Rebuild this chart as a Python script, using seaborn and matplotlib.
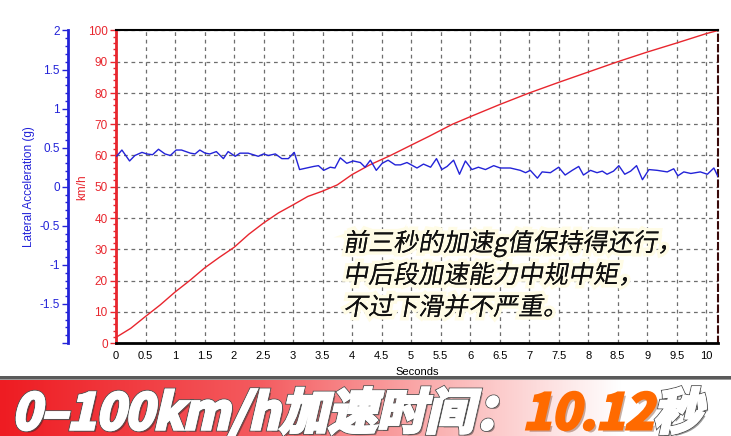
import numpy as np
import pandas as pd
import matplotlib
matplotlib.use("Agg")
import matplotlib.pyplot as plt
import seaborn as sns
import matplotlib.patheffects as pe
from matplotlib.textpath import TextPath, text_to_path
from matplotlib.patches import PathPatch, Rectangle
from matplotlib.font_manager import FontProperties
from matplotlib.transforms import Affine2D
from matplotlib.ticker import MultipleLocator, FuncFormatter
from matplotlib.colors import LinearSegmentedColormap

# speed trace (km/h)
t_speed = [0.0, 0.25, 0.5, 0.75, 1.0, 1.25, 1.5, 1.75, 2.0, 2.25, 2.5, 2.75, 3.0, 3.25,
           3.5, 3.75, 4.0, 4.3, 4.65, 5.0, 5.3, 5.7, 6.0, 6.5, 7.0, 7.5, 8.0, 8.5, 9.0,
           9.5, 10.0, 10.2]
speed = [1.8, 4.7, 8.5, 12.2, 16.3, 20.0, 24.0, 27.4, 30.6, 34.8, 38.4, 41.6, 44.2, 46.9,
         48.6, 50.6, 53.9, 57.0, 60.0, 63.3, 66.1, 70.0, 72.4, 76.3, 80.0, 83.4, 86.7, 90.0,
         93.1, 96.0, 99.0, 100.0]

# acceleration trace (g)
t_g = [0.01, 0.10, 0.23, 0.32, 0.44, 0.52, 0.62, 0.72, 0.83, 0.92, 1.02, 1.11, 1.26, 1.34,
       1.42, 1.51, 1.59, 1.70, 1.82, 1.90, 2.02, 2.10, 2.24, 2.41, 2.50, 2.58, 2.70, 2.81,
       2.92, 3.02, 3.11, 3.23, 3.35, 3.43, 3.52, 3.63, 3.71, 3.80, 3.91, 4.02, 4.14, 4.22,
       4.31, 4.41, 4.51, 4.61, 4.73, 4.82, 4.93, 5.10, 5.21, 5.33, 5.43, 5.52, 5.61, 5.72,
       5.82, 5.92, 6.03, 6.14, 6.26, 6.40, 6.51, 6.68, 6.85, 6.94, 7.02, 7.14, 7.22, 7.36,
       7.50, 7.61, 7.73, 7.84, 7.92, 8.04, 8.15, 8.24, 8.32, 8.43, 8.52, 8.62, 8.72, 8.82,
       8.92, 9.03, 9.17, 9.34, 9.45, 9.52, 9.62, 9.74, 9.90, 10.02, 10.13, 10.20]
g = [0.39, 0.47, 0.33, 0.40, 0.44, 0.42, 0.41, 0.48, 0.42, 0.40, 0.47, 0.47, 0.43, 0.42,
     0.47, 0.43, 0.42, 0.45, 0.36, 0.45, 0.39, 0.43, 0.43, 0.39, 0.42, 0.40, 0.42, 0.36,
     0.36, 0.44, 0.22, 0.24, 0.26, 0.27, 0.21, 0.25, 0.24, 0.37, 0.30, 0.33, 0.31, 0.25,
     0.34, 0.21, 0.30, 0.34, 0.28, 0.28, 0.31, 0.24, 0.29, 0.25, 0.36, 0.22, 0.26, 0.34,
     0.16, 0.33, 0.22, 0.25, 0.22, 0.27, 0.24, 0.24, 0.21, 0.18, 0.21, 0.11, 0.19, 0.18,
     0.25, 0.15, 0.21, 0.26, 0.15, 0.21, 0.18, 0.20, 0.16, 0.20, 0.27, 0.16, 0.20, 0.27,
     0.09, 0.22, 0.21, 0.19, 0.23, 0.14, 0.19, 0.17, 0.19, 0.16, 0.24, 0.13]

note_lines = ["前三秒的加速g值保持得还行，", "中后段加速能力中规中矩，", "不过下滑并不严重。"]
banner_parts = [("0–100km/h加速时间：", "white"), ("10.12", "#ff6a00"), ("秒", "white")]

RED = "#e8262e"
BLUE = "#2323d8"
W, H = 731, 436

sns.set_theme(style="white")
plt.rcParams['font.family'] = ['Liberation Sans', 'DejaVu Sans']

fig = plt.figure(figsize=(W / 100, H / 100), dpi=100)
ax = fig.add_axes([116 / W, 1 - 343 / H, 602 / W, 312.5 / H])
ax2 = ax.twinx()

sns.lineplot(x=t_speed, y=speed, ax=ax, color=RED, lw=1.0, estimator=None, sort=False)
sns.lineplot(x=t_g, y=g, ax=ax2, color=BLUE, lw=1.0, estimator=None, sort=False)

ax.set_xlim(0, 10.2)
ax.set_ylim(0, 100)
ax2.set_ylim(-2, 2)

ax.grid(True, which='major', color='#6e6e6e', linestyle=(0, (3, 3)), lw=0.9)
ax.xaxis.set_major_locator(MultipleLocator(0.5))
ax.xaxis.set_minor_locator(MultipleLocator(0.1))
ax.xaxis.set_major_formatter(FuncFormatter(lambda v, p: "%g" % v))
ax.yaxis.set_major_locator(MultipleLocator(10))
ax.yaxis.set_minor_locator(MultipleLocator(2))

ax2.yaxis.set_major_locator(MultipleLocator(0.5))
ax2.yaxis.set_minor_locator(MultipleLocator(0.1))
ax2.yaxis.set_major_formatter(FuncFormatter(lambda v, p: "" if v <= -2 else "%g" % v))

ax.tick_params(axis='x', which='both', direction='in', colors='black', labelsize=8, pad=6)
ax.tick_params(axis='x', which='major', length=4, width=0.8)
ax.tick_params(axis='x', which='minor', length=2, width=0.8)
ax.tick_params(axis='y', which='both', direction='out', colors=RED, labelsize=8.5, pad=2)
ax.tick_params(axis='y', which='major', length=4, width=1)
ax.tick_params(axis='y', which='minor', length=2, width=1)

ax2.yaxis.tick_left()
ax2.yaxis.set_label_position('left')
ax2.spines['left'].set_position(('outward', 34.5))
ax2.tick_params(axis='y', which='both', direction='out', colors=BLUE, labelsize=8.5, pad=2)
ax2.tick_params(axis='y', which='major', length=4, width=1)
ax2.tick_params(axis='y', which='minor', length=2, width=1)
for s in ['right', 'top', 'bottom']:
    ax2.spines[s].set_visible(False)
ax2.spines['left'].set_color(BLUE)
ax2.spines['left'].set_linewidth(2)

ax.spines['left'].set_color(RED)
ax.spines['left'].set_linewidth(2)
ax.spines['bottom'].set_color('black')
ax.spines['bottom'].set_linewidth(2)
ax.spines['top'].set_color('black')
ax.spines['top'].set_linewidth(1.5)
ax.spines['right'].set_color('#3a0a0a')
ax.spines['right'].set_linewidth(1.5)
ax.spines['right'].set_linestyle((0, (3, 2)))

ax.set_xlabel("Seconds", fontsize=8, color='black', labelpad=4)
ax.set_ylabel("km/h", fontsize=8.5, color=RED)
ax.yaxis.set_label_coords(-0.046, 0.5)
ax2.set_ylabel("Lateral Acceleration (g)", fontsize=8.5, color=BLUE)
ax2.yaxis.set_label_coords(-0.135, 0.5)

# banner background
bax = fig.add_axes([0, 0, 1, 58 / H])
cmap = LinearSegmentedColormap.from_list("ban", [(0, "#ee1c22"), (0.35, "#f45a5e"),
                                                 (0.62, "#fbb8b8"), (0.85, "#ffffff"),
                                                 (1, "#ffffff")])
bax.imshow(np.linspace(0, 1, 256)[None, :], cmap=cmap, aspect='auto', extent=[0, W, 0, 58])
bax.set_axis_off()

# overlay in pixel coordinates
ov = fig.add_axes([0, 0, 1, 1], zorder=10)
ov.set_xlim(0, W)
ov.set_ylim(0, H)
ov.set_axis_off()
ov.add_patch(Rectangle((0, 57), W, 3, color='#5a5a5a', lw=0))
ov.add_patch(Rectangle((0, 56), W, 1.5, color='#9a9a9a', lw=0))


def skew_text(x, y, s, size, prop, skew=12, yscale=1.0):
    prop = prop.copy()
    prop.set_size(size)
    tp = TextPath((0, 0), s, prop=prop)
    adv = text_to_path.get_text_width_height_descent(s, prop, ismath=False)[0]
    tr = Affine2D().scale(1, yscale).skew_deg(skew, 0).translate(x, y)
    return tr.transform_path(tp), adv


# banner title
bprop = FontProperties(family='Noto Sans CJK SC', weight='black')
full = "".join(p[0] for p in banner_parts)
probe = bprop.copy()
probe.set_size(1)
unit_w = text_to_path.get_text_width_height_descent(full, probe, ismath=False)[0]
bsize = 690 / unit_w
x = 12
for s, col in banner_parts:
    path, adv = skew_text(x, 7, s, bsize, bprop, skew=13, yscale=1.0)
    patch = PathPatch(path, facecolor=col, edgecolor=col, lw=2.2)
    if col == 'white':
        fx = [pe.SimplePatchShadow(offset=(2, -2), shadow_rgbFace='#202020', alpha=0.45),
              pe.withStroke(linewidth=3.6, foreground='#555555'), pe.Normal()]
    else:
        fx = [pe.SimplePatchShadow(offset=(2, -2), shadow_rgbFace='#602000', alpha=0.35),
              pe.Normal()]
    patch.set_path_effects(fx)
    ov.add_patch(patch)
    x += adv

# annotation
nprop = FontProperties(family='Noto Sans CJK SC', weight='normal')
for i, line in enumerate(note_lines):
    path, adv = skew_text(343, 185 - 32 * i, line, 25, nprop, skew=10)
    patch = PathPatch(path, facecolor='#111111', edgecolor='none')
    patch.set_path_effects([pe.withStroke(linewidth=5, foreground='#fffce6'), pe.Normal()])
    ov.add_patch(patch)

fig.savefig("out.png", dpi=100)
